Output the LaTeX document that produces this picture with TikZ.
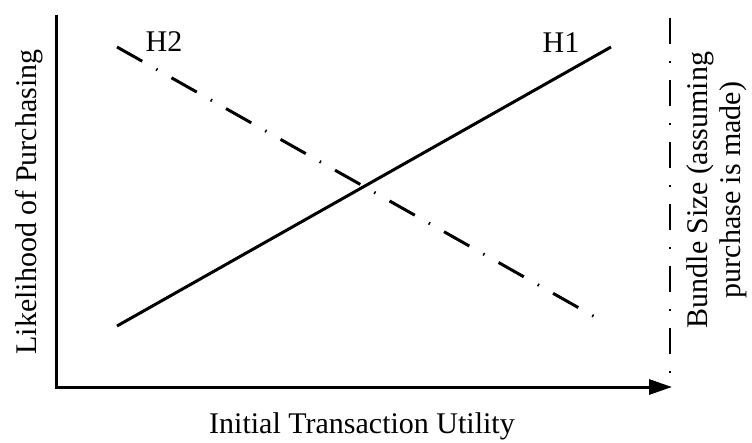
\documentclass[tikz,border=0pt]{standalone}
\usepackage{fontspec}
\setmainfont{Liberation Serif}
\usetikzlibrary{arrows.meta}

\begin{document}
\begin{tikzpicture}[x=1pt, y=-1pt, every node/.style={inner sep=0pt, font=\fontsize{30}{33}\selectfont}]
	\tikzset{axis/.style={line width=3pt}, dashdot/.style={line width=3pt, dash pattern=on 29pt off 16pt on 1.5pt off 16.1pt}}
	\useasboundingbox (0,0) rectangle (752,442);
	\coordinate (ytop) at (56,15);
	\coordinate (xend) at (672,387);
	\coordinate (rtop) at (670,18);
	\coordinate (rbot) at (670,376);
	\coordinate (h1s) at (117,326);
	\coordinate (h1e) at (611,47);
	\coordinate (h2s) at (117,47);
	\coordinate (h2e) at (595,317);
	\draw[axis, -{Triangle[length=23pt,width=15pt]}] (ytop) |- (xend);
	\draw[line width=2.6pt, dash pattern=on 26pt off 17pt on 2pt off 17pt] (rtop) -- (rbot);
	\draw[line width=3pt] (h1s) -- (h1e);
	\draw[dashdot] (h2s) -- (h2e);
	\node[anchor=base] (lh1) at (561,52) {H1};
	\node[anchor=base] (lh2) at (164,51) {H2};
	\node[anchor=base] (xlab) at (362,433) {Initial Transaction Utility};
	\node[anchor=base, rotate=90] (ylab) at (36,202) {Likelihood of Purchasing};
	\node[align=center, rotate=90] (rlab) at (717,190) {Bundle Size (assuming\\purchase is made)};
\end{tikzpicture}
\end{document}
